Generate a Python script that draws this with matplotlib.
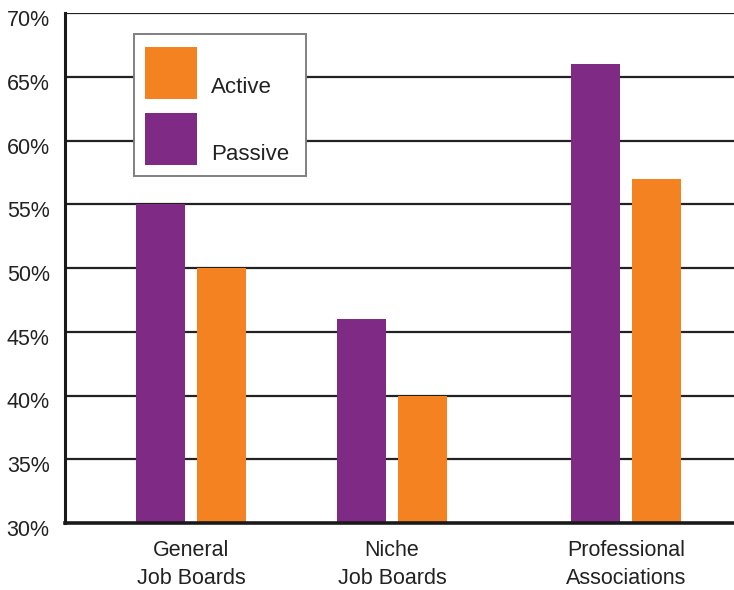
import matplotlib.pyplot as plt
import matplotlib.transforms as mtransforms
from matplotlib.patches import Rectangle

plt.rcParams['font.family'] = ['Liberation Sans', 'DejaVu Sans']

categories = ['General\nJob Boards', 'Niche\nJob Boards', 'Professional\nAssociations']
passive = [55, 46, 66]
active = [50, 40, 57]
yticks = [30, 35, 40, 45, 50, 55, 60, 65, 70]

PURPLE = '#7F2A84'
ORANGE = '#F58220'
W, H = 734, 590

# group centres (axis units), groups are not evenly spaced in the original
centers = [1.26, 3.27, 5.61]
bw = 0.49
off = 0.305

fig = plt.figure(figsize=(W / 100, H / 100), dpi=100)
ax = fig.add_axes([65 / W, (H - 523) / H, 1 - 65 / W, (523 - 13) / H])

for y in yticks[1:]:
    ax.axhline(y, color='#222222', lw=1.6, zorder=1)

ax.bar([c - off for c in centers], [p - 30 for p in passive], bottom=30, width=bw,
       color=PURPLE, zorder=2)
ax.bar([c + off for c in centers], [a - 30 for a in active], bottom=30, width=bw,
       color=ORANGE, zorder=2)

ax.set_xlim(0, 6.69)
ax.set_ylim(30, 70)
ax.set_yticks(yticks)
ax.set_yticklabels([f'{v}%' for v in yticks], fontsize=15.5, color='#222222')
ax.set_xticks(centers)
ax.set_xticklabels(categories, fontsize=15.5, color='#222222', linespacing=1.45)
ax.tick_params(axis='both', length=0)
ax.tick_params(axis='y', pad=11)
ax.tick_params(axis='x', pad=12)
shift = mtransforms.ScaledTranslation(0, -5 / 100, fig.dpi_scale_trans)
for lab in ax.get_yticklabels():
    lab.set_transform(lab.get_transform() + shift)

for side in ['top', 'right']:
    ax.spines[side].set_visible(False)
ax.spines['left'].set_linewidth(2.2)
ax.spines['bottom'].set_linewidth(2.6)
ax.spines['left'].set_color('#1a1a1a')
ax.spines['bottom'].set_color('#1a1a1a')


def px(x, y):
    return x / W, 1 - y / H


# legend drawn by hand to match box/patch layout
lx, ly = px(134, 176)
fig.patches.append(Rectangle((lx, ly), (306 - 134) / W, (176 - 34) / H,
                             transform=fig.transFigure, facecolor='white',
                             edgecolor='#808080', lw=1.4, zorder=5))
for (top, color, label, base) in [(47, ORANGE, 'Active', 93), (113, PURPLE, 'Passive', 160)]:
    rx, ry = px(145, top + 52)
    fig.patches.append(Rectangle((rx, ry), 52 / W, 52 / H, transform=fig.transFigure,
                                 facecolor=color, edgecolor='none', zorder=6))
    tx, ty = px(211, base)
    fig.text(tx, ty, label, fontsize=16, color='#222222', va='baseline', ha='left', zorder=7)

fig.savefig('out.png', dpi=100)
